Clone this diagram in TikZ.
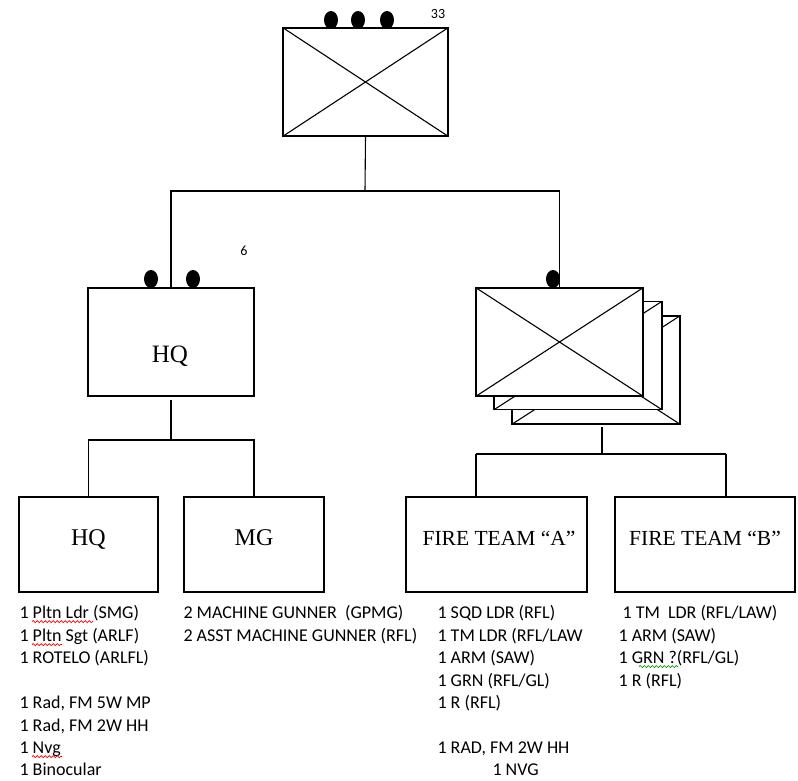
\documentclass[tikz,border=0pt]{standalone}
\usepackage{fontspec}
\setmainfont{Liberation Serif}
\newfontfamily\calfont{Carlito}
\usetikzlibrary{shapes.geometric,decorations.pathmorphing}
\begin{document}
\begin{tikzpicture}[x=1pt,y=-1pt,
 line width=1.1pt,
 unitbox/.style={draw, fill=white, rectangle, inner sep=0pt, minimum width=#1, minimum height=108},
 diag/.style={line width=1.1pt, shorten <=0.5pt, shorten >=0.5pt},
 subbox/.style={draw, rectangle, inner sep=0pt, minimum width=#1, minimum height=95},
 blob/.style={ellipse, fill=black, inner sep=0pt, minimum width=14, minimum height=18},
 lbl/.style={font=\fontsize{24}{28}\selectfont, inner sep=0pt, anchor=base},
 ftlbl/.style={font=\fontsize{21.5}{26}\selectfont, inner sep=0pt, anchor=base},
 item/.style={font=\calfont\fontsize{18}{22}\selectfont, anchor=base west, inner sep=0pt},
 num/.style={font=\calfont\fontsize{14}{16}\selectfont, inner sep=0pt},
 wavy/.style={decorate, decoration={snake, amplitude=1pt, segment length=4pt}, line width=0.7pt}
]
\fill[white] (0,0) rectangle (798,780);
\useasboundingbox (0,0) rectangle (798,780);

% top unit
\node[unitbox=165] (top) at (365.5,82) {};
\draw[diag] (top.north west) -- (top.south east);
\draw[diag] (top.south west) -- (top.north east);
\node[blob] (t1) at (331,20) {};
\node[blob] (t2) at (358,20) {};
\node[blob] (t3) at (387,20) {};
\node[num] (n33) at (438,14) {33};

% HQ
\node[unitbox=166] (hq) at (171,342) {};
\node[font=\fontsize{25}{30}\selectfont, inner sep=0pt, anchor=base] (hqt) at (170,362) {HQ};
\node[blob] (h1) at (151,279) {};
\node[blob] (h2) at (193,279) {};
\node[num] (n6) at (244,251) {6};

% stacked squads (back to front)
\node[unitbox=168] (s3) at (596,370) {};
\draw[diag] (s3.north west) -- (s3.south east);
\draw[diag] (s3.south west) -- (s3.north east);
\node[unitbox=168] (s2) at (578,355.5) {};
\draw[diag] (s2.north west) -- (s2.south east);
\draw[diag] (s2.south west) -- (s2.north east);
\node[unitbox=167] (s1) at (559.5,342) {};
\draw[diag] (s1.north west) -- (s1.south east);
\draw[diag] (s1.south west) -- (s1.north east);
\node[blob] (sd) at (553,279) {};

% sub boxes
\node[subbox=139] (hqs) at (88.5,544.5) {};
\node[subbox=140] (mg) at (254,544.5) {};
\node[subbox=181] (fta) at (496.5,544.5) {};
\node[subbox=180] (ftb) at (705,544.5) {};
\node[lbl] (hqsl) at (88.5,545) {HQ};
\node[lbl] (mgl) at (254,545) {MG};
\node[ftlbl] (ftal) at (499,545) {FIRE TEAM “A”};
\node[ftlbl] (ftbl) at (705,545) {FIRE TEAM “B”};

% connectors
\coordinate (bus1) at (365,191);
\draw (top.south) -- (bus1);
\draw (hq.north) |- (bus1);
\draw (s1.north) |- (bus1);

\coordinate (bus2) at (171,440);
\draw[shorten <=3pt] (hq.south) -- (bus2);
\draw (hqs.north) |- (bus2);
\draw (mg.north) |- (bus2);

\coordinate (stem3) at (602,427);
\coordinate (bus3) at (602,454);
\coordinate (busL) at (476,454);
\coordinate (busR) at (726,454);
\draw (stem3) -- (bus3);
\draw (busL) -- (busR);
\draw (busL) -- (busL |- fta.north);
\draw (busR) -- (busR |- ftb.north);

% item lists
\node[item] (a0) at (19,618.5) {1 Pltn Ldr (SMG)};
\node[item] (a1) at (19,641) {1 Pltn Sgt (ARLF)};
\node[item] (a2) at (19,663.5) {1 ROTELO (ARLFL)};
\node[item] (a4) at (19,708.5) {1 Rad, FM 5W MP};
\node[item] (a5) at (19,731) {1 Rad, FM 2W HH};
\node[item] (a6) at (19,753.5) {1 Nvg};
\node[item] (a7) at (19,775.5) {1 Binocular};

\node[item] (m0) at (183,618.5) {2 MACHINE GUNNER\ \ (GPMG)};
\node[item] (m1) at (183,641) {2 ASST MACHINE GUNNER (RFL)};

\node[item] (f0) at (437,618.5) {1 SQD LDR (RFL)};
\node[item] (f1) at (437,641) {1 TM LDR (RFL/LAW};
\node[item] (f2) at (437,663.5) {1 ARM (SAW)};
\node[item] (f3) at (437,686) {1 GRN (RFL/GL)};
\node[item] (f4) at (437,708.5) {1 R (RFL)};
\node[item] (f6) at (437,753.5) {1 RAD, FM 2W HH};
\node[item] (f7) at (492,775.5) {1 NVG};

\node[item] (g0) at (622,618.5) {1 TM\ \ LDR (RFL/LAW)};
\node[item] (g1) at (618,641) {1 ARM (SAW)};
\node[item] (g2) at (618,663.5) {1 GRN ?(RFL/GL)};
\node[item] (g3) at (618,686) {1 R (RFL)};

% spell-check marks
\draw[wavy, red] (32,621.5) -- (93,621.5);
\draw[wavy, red] (32,644.5) -- (62,644.5);
\draw[wavy, red] (32,756.5) -- (62,756.5);
\draw[wavy, green!60!black] (639,666.5) -- (678,666.5);
\end{tikzpicture}
\end{document}
